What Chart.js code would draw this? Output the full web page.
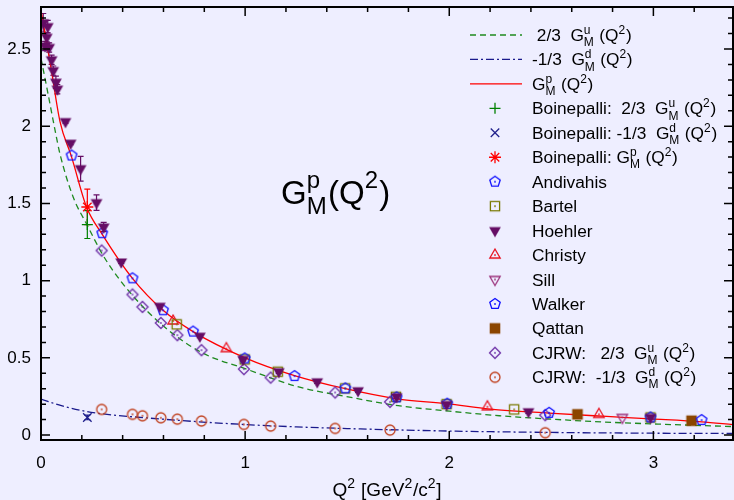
<!DOCTYPE html>
<html>
<head>
<meta charset="utf-8">
<script src="https://cdn.jsdelivr.net/npm/chart.js@4.4.0/dist/chart.umd.min.js"></script>
<style>
    html, body { margin: 0; padding: 0; background: #eeeeff; }
    canvas { display: block; }
</style>
</head>
<body>
<canvas id="myChart" width="734" height="500"></canvas>
<script>
var FUENTE = '"Liberation Sans", Arial, sans-serif';

// Curvas: G_M^p, 2/3 G_M^u, -1/3 G_M^d
var q2Gp = [0, 0.05, 0.093, 0.15, 0.223, 0.3, 0.448, 0.598, 0.745, 1.0, 1.242, 1.491, 1.742, 1.99, 2.2, 2.489, 2.75, 2.986, 3.236, 3.39];
var valGp = [2.75, 2.37, 2.03, 1.80, 1.477, 1.30, 1.015, 0.808, 0.67, 0.50, 0.385, 0.30, 0.235, 0.203, 0.168, 0.142, 0.122, 0.105, 0.086, 0.068];
var q2Gu = [0, 0.03, 0.068, 0.093, 0.158, 0.226, 0.297, 0.35, 0.448, 0.587, 0.786, 1.0, 1.267, 1.495, 1.75, 2.0, 2.245, 2.5, 2.75, 3.0, 3.39];
var valGu = [2.44, 2.24, 1.98, 1.82, 1.54, 1.36, 1.18, 1.07, 0.905, 0.72, 0.535, 0.43, 0.31, 0.25, 0.19, 0.155, 0.125, 0.103, 0.085, 0.072, 0.055];
var q2Gd = [0, 0.1, 0.226, 0.35, 0.5, 0.75, 1.0, 1.25, 1.5, 2.0, 2.5, 3.0, 3.39];
var valGd = [0.233, 0.19, 0.152, 0.13, 0.113, 0.088, 0.068, 0.053, 0.042, 0.026, 0.017, 0.012, 0.01];

// Boinepalli (un solo Q^2)
var q2Boine = [0.227];
var boineU = [1.363], boineUErr = [0.09];
var boineD = [0.114], boineDErr = [0.015];
var boineP = [1.477], boinePErr = [0.115];

// Datos experimentales
var q2Andivahis = [1.742, 2.489, 3.236];
var gAndivahis = [0.244, 0.144, 0.097];
var q2Bartel = [0.665, 0.998, 1.160, 1.490, 1.739, 1.987, 2.318, 2.986];
var gBartel = [0.717, 0.490, 0.410, 0.302, 0.248, 0.200, 0.166, 0.114];
var q2Hoehler = [0.011, 0.033, 0.028, 0.020, 0.040, 0.052, 0.060, 0.073, 0.080, 0.120, 0.145, 0.194, 0.272, 0.307, 0.393, 0.582, 0.778, 0.990, 1.165, 1.353, 1.553, 1.742, 1.987, 2.388, 2.986];
var gHoehler = [2.67, 2.645, 2.576, 2.52, 2.51, 2.43, 2.36, 2.285, 2.24, 2.03, 1.89, 1.725, 1.505, 1.347, 1.121, 0.834, 0.64, 0.49, 0.41, 0.345, 0.287, 0.248, 0.198, 0.151, 0.114];
var errHoehler = [0.06, 0.04, 0.03, 0.03, 0.03, 0.03, 0.03, 0.04, 0.03, 0.01, 0.01, 0.08, 0.05, 0.03, 0.01, 0.01, 0.01, 0.01, 0.01, 0.01, 0.01, 0.01, 0.01, 0.01, 0.01];
var q2Christy = [0.647, 0.908, 2.187, 2.733];
var gChristy = [0.739, 0.560, 0.183, 0.134];
var q2Sill = [2.848];
var gSill = [0.114];
var q2Walker = [0.150, 0.300, 0.448, 0.598, 0.745, 0.998, 1.242, 1.491, 1.990, 2.986];
var gWalker = [1.81, 1.307, 1.015, 0.808, 0.670, 0.496, 0.382, 0.302, 0.203, 0.114];
var q2Qattan = [2.628, 3.187];
var gQattan = [0.134, 0.093];
var q2Cjrw = [0.297, 0.448, 0.497, 0.587, 0.668, 0.786, 0.994, 1.125, 1.441, 1.710, 2.470];
var cjrwU = [1.195, 0.910, 0.830, 0.726, 0.647, 0.550, 0.427, 0.372, 0.276, 0.215, 0.129];
var cjrwD = [0.166, 0.134, 0.125, 0.112, 0.103, 0.091, 0.069, 0.058, 0.043, 0.032, 0.015];

// Ejes
var xMin = 0, xMax = 3.39, xPaso = 0.2;
var yMin = -0.032, yMax = 2.772, yPaso = 0.1;

function puntos(xs, ys) {
    return xs.map(function (x, i) { return { x: x, y: ys[i] }; });
}

// Simbolos tipo gnuplot dibujados en un canvas pequeño
function simbolo(color, dibujar, relleno) {
    var c = document.createElement('canvas');
    c.width = 18; c.height = 18;
    var g = c.getContext('2d');
    g.translate(9, 9);
    g.strokeStyle = color;
    g.fillStyle = color;
    g.lineWidth = 1.3;
    g.beginPath();
    dibujar(g);
    g.closePath();
    if (relleno) {
        g.fill();
    } else {
        g.stroke();
        g.fillRect(-0.8, -0.8, 1.6, 1.6);
    }
    return c;
}
function poligono(n, r, giro) {
    return function (g) {
        for (var k = 0; k < n; k++) {
            var a = giro + k * 2 * Math.PI / n;
            if (k === 0) g.moveTo(r * Math.cos(a), r * Math.sin(a));
            else g.lineTo(r * Math.cos(a), r * Math.sin(a));
        }
    };
}
function circulo(r) {
    return function (g) { g.arc(0, 0, r, 0, 2 * Math.PI); };
}

var colores = {
    gu: '#1f8a1f', gd: '#1a1a8c', gp: '#ff0000',
    boineU: '#008000', boineD: '#20208c', boineP: '#ff0000',
    andivahis: '#1010ff', bartel: '#787800', hoehler: '#650d65',
    christy: '#e8101e', sill: '#9a2f7a', walker: '#1010ff',
    qattan: '#8b4500', cjrwU: '#6f32a8', cjrwD: '#c0401e'
};

var simbolos = {
    andivahis: simbolo(colores.andivahis, poligono(5, 5.5, -Math.PI / 2)),
    walker: simbolo(colores.walker, poligono(5, 5.5, -Math.PI / 2)),
    bartel: simbolo(colores.bartel, poligono(4, 6.5, Math.PI / 4)),
    hoehler: simbolo(colores.hoehler, poligono(3, 6.8, Math.PI / 2), true),
    christy: simbolo(colores.christy, poligono(3, 6, -Math.PI / 2)),
    sill: simbolo(colores.sill, poligono(3, 6, Math.PI / 2)),
    qattan: simbolo(colores.qattan, poligono(4, 7.5, Math.PI / 4), true),
    cjrwU: simbolo(colores.cjrwU, poligono(4, 5.5, 0)),
    cjrwD: simbolo(colores.cjrwD, circulo(5))
};

function curva(label, xs, ys, color, dash) {
    return {
        label: label, data: puntos(xs, ys), showLine: true, pointRadius: 0,
        borderColor: color, borderWidth: 1.3, borderDash: dash,
        cubicInterpolationMode: 'monotone', fill: false
    };
}
function serie(label, xs, ys, estilo, color, radio, errores) {
    return {
        label: label, data: puntos(xs, ys), showLine: false,
        pointStyle: estilo, pointRadius: radio || 5, pointBorderWidth: 1.3,
        pointBorderColor: color, pointBackgroundColor: color,
        errores: errores, colorError: color
    };
}

var datasets = [
    serie('Boinepalli P', q2Boine, boineP, 'star', colores.boineP, 6, boinePErr),
    serie('Boinepalli U', q2Boine, boineU, 'cross', colores.boineU, 5.5, boineUErr),
    serie('Boinepalli D', q2Boine, boineD, 'crossRot', colores.boineD, 6, boineDErr),
    serie('Hoehler', q2Hoehler, gHoehler, simbolos.hoehler, colores.hoehler, 6, errHoehler),
    serie('Walker', q2Walker, gWalker, simbolos.walker, colores.walker),
    serie('Andivahis', q2Andivahis, gAndivahis, simbolos.andivahis, colores.andivahis),
    serie('Bartel', q2Bartel, gBartel, simbolos.bartel, colores.bartel),
    serie('Christy', q2Christy, gChristy, simbolos.christy, colores.christy),
    serie('Sill', q2Sill, gSill, simbolos.sill, colores.sill),
    serie('Qattan', q2Qattan, gQattan, simbolos.qattan, colores.qattan),
    serie('CJRW U', q2Cjrw, cjrwU, simbolos.cjrwU, colores.cjrwU),
    serie('CJRW D', q2Cjrw, cjrwD, simbolos.cjrwD, colores.cjrwD),
    curva('Gp', q2Gp, valGp, colores.gp, []),
    curva('Gu', q2Gu, valGu, colores.gu, [6, 4]),
    curva('Gd', q2Gd, valGd, colores.gd, [8, 3, 2, 3])
];

// Texto con subindices y superindices apilados; devuelve el ancho
function textoRico(ctx, partes, x, y, tam, subir, medir) {
    var chico = Math.round(tam * 0.72);
    var x0 = x;
    subir = subir || 0.42;
    partes.forEach(function (p) {
        if (typeof p === 'string') {
            ctx.font = tam + 'px ' + FUENTE;
            if (!medir) ctx.fillText(p, x, y);
            x += ctx.measureText(p).width;
        } else {
            ctx.font = chico + 'px ' + FUENTE;
            var w = 0;
            if (p.sup) { if (!medir) ctx.fillText(p.sup, x, y - tam * subir); w = ctx.measureText(p.sup).width; }
            if (p.sub) { if (!medir) ctx.fillText(p.sub, x, y + tam * 0.3); w = Math.max(w, ctx.measureText(p.sub).width); }
            x += w + tam * 0.04;
        }
    });
    return x - x0;
}

var leyenda = [
    { texto: [' 2/3  G', { sub: 'M', sup: 'u' }, ' (Q', { sup: '2' }, ')'], linea: colores.gu, dash: [6, 4] },
    { texto: ['-1/3  G', { sub: 'M', sup: 'd' }, ' (Q', { sup: '2' }, ')'], linea: colores.gd, dash: [8, 3, 2, 3] },
    { texto: ['G', { sub: 'M', sup: 'p' }, ' (Q', { sup: '2' }, ')'], linea: colores.gp, dash: [] },
    { texto: ['Boinepalli:  2/3  G', { sub: 'M', sup: 'u' }, ' (Q', { sup: '2' }, ')'], estilo: 'cross', color: colores.boineU, radio: 5.5 },
    { texto: ['Boinepalli: -1/3  G', { sub: 'M', sup: 'd' }, ' (Q', { sup: '2' }, ')'], estilo: 'crossRot', color: colores.boineD, radio: 6 },
    { texto: ['Boinepalli: G', { sub: 'M', sup: 'p' }, ' (Q', { sup: '2' }, ')'], estilo: 'star', color: colores.boineP, radio: 6 },
    { texto: ['Andivahis'], estilo: simbolos.andivahis },
    { texto: ['Bartel'], estilo: simbolos.bartel },
    { texto: ['Hoehler'], estilo: simbolos.hoehler },
    { texto: ['Christy'], estilo: simbolos.christy },
    { texto: ['Sill'], estilo: simbolos.sill },
    { texto: ['Walker'], estilo: simbolos.walker },
    { texto: ['Qattan'], estilo: simbolos.qattan },
    { texto: ['CJRW:   2/3  G', { sub: 'M', sup: 'u' }, ' (Q', { sup: '2' }, ')'], estilo: simbolos.cjrwU },
    { texto: ['CJRW:  -1/3  G', { sub: 'M', sup: 'd' }, ' (Q', { sup: '2' }, ')'], estilo: simbolos.cjrwD }
];

var tituloX = ['Q', { sup: '2' }, ' [GeV', { sup: '2' }, '/c', { sup: '2' }, ']'];
var tituloGrafico = ['G', { sub: 'M', sup: 'p' }, '(Q', { sup: '2' }, ')'];

function esMultiplo(v, paso) {
    var r = v / paso;
    return Math.abs(r - Math.round(r)) < 1e-6;
}

var plugins = [{
    id: 'fondo',
    beforeDraw: function (chart) {
        var ctx = chart.ctx;
        ctx.save();
        ctx.fillStyle = '#eeeeff';
        ctx.fillRect(0, 0, chart.width, chart.height);
        ctx.restore();
    }
}, {
    id: 'barrasError',
    beforeDatasetsDraw: function (chart) {
        var ctx = chart.ctx, sy = chart.scales.y;
        ctx.save();
        ctx.lineWidth = 1.2;
        chart.data.datasets.forEach(function (ds, i) {
            if (!ds.errores) return;
            var meta = chart.getDatasetMeta(i);
            ctx.strokeStyle = ds.colorError;
            meta.data.forEach(function (el, j) {
                var e = ds.errores[j];
                if (!e) return;
                var y0 = sy.getPixelForValue(ds.data[j].y - e);
                var y1 = sy.getPixelForValue(ds.data[j].y + e);
                ctx.beginPath();
                ctx.moveTo(el.x, y0); ctx.lineTo(el.x, y1);
                ctx.moveTo(el.x - 3, y0); ctx.lineTo(el.x + 3, y0);
                ctx.moveTo(el.x - 3, y1); ctx.lineTo(el.x + 3, y1);
                ctx.stroke();
            });
        });
        ctx.restore();
    }
}, {
    id: 'marco',
    afterDraw: function (chart) {
        var ctx = chart.ctx, a = chart.chartArea, sx = chart.scales.x, sy = chart.scales.y;
        ctx.save();
        ctx.strokeStyle = '#000';
        ctx.lineWidth = 1.5;
        ctx.beginPath();
        sx.ticks.forEach(function (t) {
            if (!esMultiplo(t.value, xPaso)) return;
            var px = sx.getPixelForValue(t.value);
            var l = esMultiplo(t.value, 1) ? 9 : 5;
            ctx.moveTo(px, a.bottom); ctx.lineTo(px, a.bottom - l);
            ctx.moveTo(px, a.top); ctx.lineTo(px, a.top + l);
        });
        sy.ticks.forEach(function (t) {
            if (!esMultiplo(t.value, yPaso)) return;
            var py = sy.getPixelForValue(t.value);
            var l = esMultiplo(t.value, 0.5) ? 9 : 5;
            ctx.moveTo(a.left, py); ctx.lineTo(a.left + l, py);
            ctx.moveTo(a.right, py); ctx.lineTo(a.right - l, py);
        });
        ctx.stroke();
        ctx.lineWidth = 2;
        ctx.strokeRect(a.left, a.top, a.right - a.left, a.bottom - a.top);

        ctx.fillStyle = '#000';
        ctx.textBaseline = 'alphabetic';

        // titulo dentro del grafico
        textoRico(ctx, tituloGrafico, 281, 204, 33, 0.5);

        // titulo del eje x
        var ancho = textoRico(ctx, tituloX, 0, 0, 19, 0.42, true);
        textoRico(ctx, tituloX, (a.left + a.right) / 2 - ancho / 2, 496, 19);

        // leyenda
        leyenda.forEach(function (item, i) {
            var y = 35 + i * 24.45;
            if (item.linea) {
                ctx.strokeStyle = item.linea;
                ctx.lineWidth = 1.3;
                ctx.setLineDash(item.dash);
                ctx.beginPath();
                ctx.moveTo(470, y); ctx.lineTo(522, y);
                ctx.stroke();
                ctx.setLineDash([]);
            } else {
                ctx.strokeStyle = item.color || '#000';
                ctx.fillStyle = item.color || '#000';
                ctx.lineWidth = 1.3;
                Chart.helpers.drawPoint(ctx, { pointStyle: item.estilo, radius: item.radio || 5, rotation: 0, borderWidth: 1.3 }, 495, y);
            }
            ctx.fillStyle = '#000';
            textoRico(ctx, item.texto, 532, y + 6, 17.3);
        });
        ctx.restore();
    }
}];

function inicializarGrafico() {
    var ctx = document.getElementById('myChart').getContext('2d');
    Chart.defaults.font.family = FUENTE;
    Chart.defaults.color = '#000';
    new Chart(ctx, {
        type: 'scatter',
        data: { datasets: datasets },
        plugins: plugins,
        options: {
            responsive: false,
            animation: false,
            events: [],
            layout: { autoPadding: false, padding: { top: 7, right: 1, left: 0, bottom: 0 } },
            plugins: { legend: { display: false }, tooltip: { enabled: false } },
            scales: {
                x: {
                    type: 'linear', min: xMin, max: xMax,
                    grid: { display: false, drawTicks: false },
                    border: { display: false },
                    ticks: {
                        stepSize: xPaso, autoSkip: false, maxRotation: 0, padding: 13,
                        includeBounds: false,
                        font: { size: 17 },
                        callback: function (v) { return esMultiplo(v, 1) ? String(Math.round(v)) : ''; }
                    },
                    afterFit: function (s) {
                        s.height = 60;
                        s.paddingLeft = 0; s.paddingRight = 0;
                    }
                },
                y: {
                    type: 'linear', min: yMin, max: yMax,
                    grid: { display: false, drawTicks: false },
                    border: { display: false },
                    ticks: {
                        stepSize: yPaso, autoSkip: false, padding: 10,
                        includeBounds: false,
                        font: { size: 17 },
                        callback: function (v) { return esMultiplo(v, 0.5) ? String(Math.round(v * 10) / 10) : ''; }
                    },
                    afterFit: function (s) {
                        s.width = 41;
                        s.paddingTop = 0; s.paddingBottom = 0;
                        s.paddingLeft = 0; s.paddingRight = 0;
                    }
                }
            }
        }
    });
}

inicializarGrafico();
</script>
</body>
</html>
